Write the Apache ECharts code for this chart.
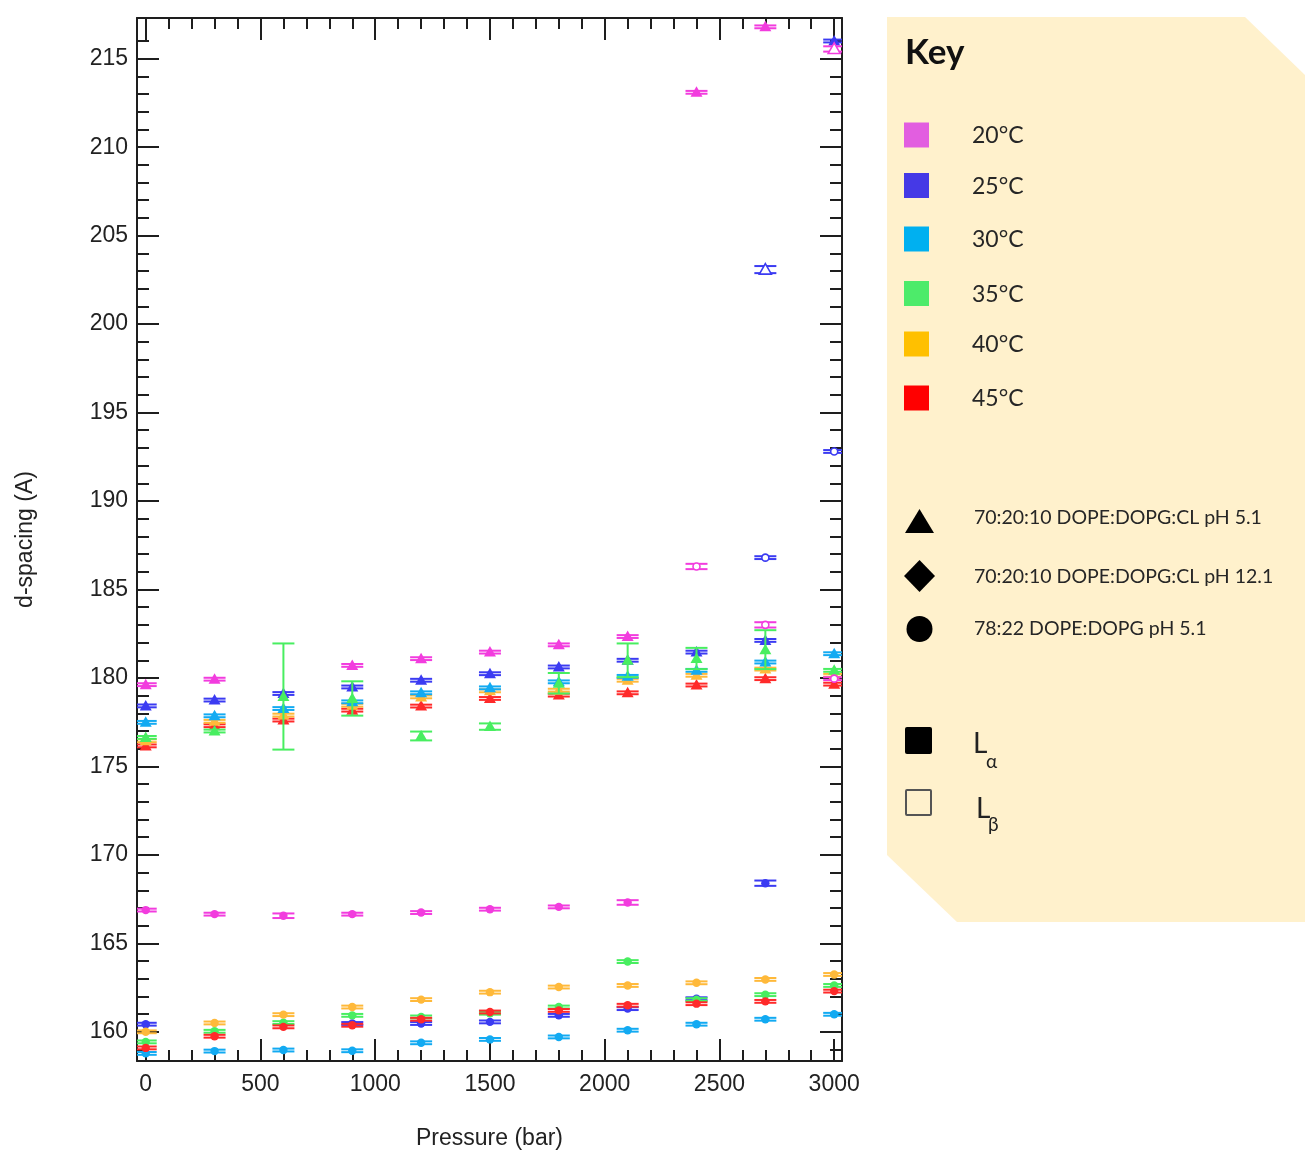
<!DOCTYPE html>
<html><head><meta charset="utf-8">
<script src="https://cdn.jsdelivr.net/npm/echarts@6/dist/echarts.min.js"></script>
<style>html,body{margin:0;padding:0;background:#fff}#c{width:1305px;height:1155px}</style>
</head><body><div id="c"></div>
<script>
// ---------- labels ----------
const temps = ['20°C', '25°C', '30°C', '35°C', '40°C', '45°C'];
const sampleLabels = ['70:20:10 DOPE:DOPG:CL pH 5.1', '70:20:10 DOPE:DOPG:CL pH 12.1', '78:22 DOPE:DOPG pH 5.1'];
const xName = 'Pressure (bar)';
const yName = 'd-spacing (A)';
const xMajor = [0, 500, 1000, 1500, 2000, 2500, 3000];
const xMinor = [100,200,300,400,600,700,800,900,1100,1200,1300,1400,1600,1700,1800,1900,2100,2200,2300,2400,2600,2700,2800,2900];
const yMajor = [160, 165, 170, 175, 180, 185, 190, 195, 200, 205, 210, 215];
const yMinor = [159,161,162,163,164,166,167,168,169,171,172,173,174,176,177,178,179,181,182,183,184,186,187,188,189,191,192,193,194,196,197,198,199,201,202,203,204,206,207,208,209,211,212,213,214,216];

// ---------- data: [pressure (bar), d-spacing (Å), error (optional)] ----------
// 70:20:10 DOPE:DOPG:CL pH 5.1 (triangles), L-alpha
const tri20 = [[0,179.62],[300,179.93],[900,180.71],[1200,181.09],[1500,181.46],[1800,181.87],[2100,182.34],[2400,213.1],[2700,216.8]];
const tri25 = [[0,178.42],[300,178.75],[600,179.12],[900,179.49],[1200,179.87],[1500,180.24],[1800,180.62],[2100,181.0],[2400,181.46],[2700,182.12],[3000,216.0]];
const tri30 = [[0,177.49],[300,177.86],[600,178.27],[900,178.65],[1200,179.16],[1500,179.44],[1800,179.78],[2100,180.09],[2400,180.43],[2700,180.9],[3000,181.37]];
const tri35 = [[0,176.64],[300,177.0],[600,178.95,3.0],[900,178.84,0.97],[1200,176.72,0.25],[1500,177.25,0.18],[1800,179.7,0.58],[2100,181.0,0.95],[2400,181.1,0.6],[2700,181.6,1.1],[3000,180.43]];
const tri40 = [[0,176.45],[300,177.55],[600,177.9],[900,178.46],[1200,178.93],[1500,179.27],[1800,179.31],[2100,179.87],[2400,180.15],[2700,180.5],[3000,180.15]];
const tri45 = [[0,176.16],[300,177.3],[600,177.62],[900,178.18],[1200,178.41],[1500,178.84],[1800,179.03],[2100,179.16],[2400,179.6],[2700,179.96],[3000,179.65]];
// 78:22 DOPE:DOPG pH 5.1 (circles), L-alpha
const circ20 = [[0,166.88],[300,166.65],[600,166.56,0.13],[900,166.65],[1200,166.74],[1500,166.93],[1800,167.06],[2100,167.31,0.13]];
const circ25 = [[0,160.43],[900,160.47],[1200,160.47],[1500,160.56],[1800,160.93],[2100,161.31],[2400,161.87],[2700,168.4,0.15]];
const circ30 = [[0,158.78],[300,158.91],[600,158.97],[900,158.93],[1200,159.38],[1500,159.57],[1800,159.71],[2100,160.09],[2400,160.43],[2700,160.71],[3000,160.99]];
const circ35 = [[0,159.43],[300,160.03],[600,160.52],[900,160.93],[1200,160.84],[1500,161.05],[1800,161.4],[2100,163.97],[2400,161.82],[2700,162.1],[3000,162.62]];
const circ40 = [[0,160.0],[300,160.5],[600,160.97],[900,161.4],[1200,161.82],[1500,162.24],[1800,162.53],[2100,162.62],[2400,162.77],[2700,162.96],[3000,163.24]];
const circ45 = [[0,159.09],[300,159.75],[600,160.28],[900,160.37],[1200,160.71],[1500,161.12],[1800,161.21],[2100,161.5],[2400,161.59],[2700,161.72],[3000,162.3]];
// L-beta (hollow markers)
const triB20 = [[3000,215.55,0.15]];
const circB20 = [[2400,186.3,0.15],[2700,183.0,0.15],[3000,179.96]];
const triB25 = [[2700,203.08,0.2]];
const circB25 = [[2700,186.8],[3000,192.8]];

// ---------- styling ----------
const dataColors = ['#F23CDE', '#3B3BF2', '#12AAF2', '#48EE60', '#FFB93A', '#FF2A2A'];
const keyColors = ['#E25EE0', '#4539E6', '#00B0F0', '#4DEB6A', '#FFC000', '#FF0000'];
const DEF_ERR = 0.08;
const AX = '#1e1e1e';
const FONT = '"Liberation Sans", Arial, sans-serif';
const KFONT = 'Lato, "Open Sans", sans-serif';

function makeRender(shape, hollow, color) {
  return function (params, api) {
    const p = api.value(0), d = api.value(1);
    let e = api.value(2);
    if (!(e > 0)) e = DEF_ERR;
    const c = api.coord([p, d]);
    const t = api.coord([p, d + e]);
    const b = api.coord([p, d - e]);
    const hw = 11;
    const ls = { stroke: color, lineWidth: 2 };
    const ch = [
      { type: 'line', shape: { x1: c[0], y1: t[1], x2: c[0], y2: b[1] }, style: ls },
      { type: 'line', shape: { x1: c[0] - hw, y1: t[1], x2: c[0] + hw, y2: t[1] }, style: ls },
      { type: 'line', shape: { x1: c[0] - hw, y1: b[1], x2: c[0] + hw, y2: b[1] }, style: ls }
    ];
    const st = hollow ? { fill: '#fff', stroke: color, lineWidth: 1.6 } : { fill: color };
    if (shape === 'tri') {
      ch.push({ type: 'polygon', shape: { points: [[c[0], c[1] - 6], [c[0] + 6, c[1] + 4.5], [c[0] - 6, c[1] + 4.5]] }, style: st });
    } else {
      ch.push({ type: 'circle', shape: { cx: c[0], cy: c[1], r: hollow ? 3.5 : 4.2 }, style: st });
    }
    return { type: 'group', children: ch };
  };
}

function mk(data, shape, hollow, ci) {
  return {
    type: 'custom', xAxisIndex: 0, yAxisIndex: 0, clip: true,
    dimensions: ['p', 'd', 'e'], encode: { x: 0, y: 1 },
    data: data, renderItem: makeRender(shape, hollow, dataColors[ci])
  };
}

const triSets = [tri20, tri25, tri30, tri35, tri40, tri45];
const circSets = [circ20, circ25, circ30, circ35, circ40, circ45];
const series = [];
circSets.forEach((d, i) => series.push(mk(d, 'circ', false, i)));
[5, 4, 2, 1, 0, 3].forEach(i => series.push(mk(triSets[i], 'tri', false, i)));
series.push(mk(circB20, 'circ', true, 0));
series.push(mk(circB25, 'circ', true, 1));
series.push(mk(triB20, 'tri', true, 0));
series.push(mk(triB25, 'tri', true, 1));

const XMIN = -38, XMAX = 3034, YMIN = 158.35, YMAX = 217.3;
function xAx(pos, vals, len, labels, line) {
  return {
    type: 'value', position: pos, min: XMIN, max: XMAX, gridIndex: 0,
    axisLine: { show: line, onZero: false, lineStyle: { color: AX, width: 2 } },
    axisTick: { show: true, inside: true, length: len, customValues: vals, lineStyle: { color: AX, width: 2 } },
    axisLabel: labels ? { show: true, customValues: vals, margin: 12, color: '#222', fontSize: 23, fontFamily: FONT, formatter: v => String(v) } : { show: false },
    splitLine: { show: false },
    name: labels ? xName : '', nameLocation: 'middle', nameGap: 66,
    nameTextStyle: { fontSize: 23, color: '#222', fontFamily: FONT }
  };
}
function yAx(pos, vals, len, labels, line) {
  return {
    type: 'value', position: pos, min: YMIN, max: YMAX, gridIndex: 0,
    axisLine: { show: line, onZero: false, lineStyle: { color: AX, width: 2 } },
    axisTick: { show: true, inside: true, length: len, customValues: vals, lineStyle: { color: AX, width: 2 } },
    axisLabel: labels ? { show: true, customValues: vals, margin: 9, color: '#222', fontSize: 23, fontFamily: FONT, formatter: v => String(v) } : { show: false },
    splitLine: { show: false },
    name: labels ? yName : '', nameLocation: 'middle', nameGap: 100, nameRotate: 90,
    nameTextStyle: { fontSize: 23, color: '#222', fontFamily: FONT }
  };
}

// ---------- key panel ----------
const graphic = [];
graphic.push({ type: 'polygon', shape: { points: [[887, 17], [1245, 17], [1305, 75], [1305, 922], [957, 922], [887, 855]] }, style: { fill: '#FFF1CC' }, z: -1 });
graphic.push({ type: 'text', x: 905, y: 53, style: { text: 'Key', fontSize: 35, fontWeight: 'bold', fontFamily: KFONT, fill: '#111', verticalAlign: 'middle' } });
const keyY = [135, 185.5, 239, 293.5, 344, 398];
temps.forEach((t, i) => {
  graphic.push({ type: 'rect', shape: { x: 904, y: keyY[i] - 12.5, width: 25, height: 25 }, style: { fill: keyColors[i] } });
  graphic.push({ type: 'text', x: 972, y: keyY[i] + 1, style: { text: t, fontSize: 23, fontFamily: KFONT, fill: '#262626', verticalAlign: 'middle' } });
});
graphic.push({ type: 'polygon', shape: { points: [[919.5, 509], [934, 533], [905, 533]] }, style: { fill: '#000' } });
graphic.push({ type: 'polygon', shape: { points: [[919.5, 560], [935, 576], [919.5, 592], [904, 576]] }, style: { fill: '#000' } });
graphic.push({ type: 'circle', shape: { cx: 919.5, cy: 629, r: 13 }, style: { fill: '#000' } });
[518, 577, 629].forEach((y, i) => {
  graphic.push({ type: 'text', x: 974, y: y, style: { text: sampleLabels[i], fontSize: 19.5, fontFamily: KFONT, fill: '#262626', verticalAlign: 'middle' } });
});
graphic.push({ type: 'rect', shape: { x: 905, y: 727, width: 27, height: 27, r: 2 }, style: { fill: '#000' } });
graphic.push({ type: 'rect', shape: { x: 906, y: 790, width: 25, height: 25, r: 1 }, style: { fill: 'none', stroke: '#555', lineWidth: 2 } });
graphic.push({ type: 'text', x: 973, y: 744, style: { text: 'L', fontSize: 28, fontFamily: KFONT, fill: '#222', verticalAlign: 'middle' } });
graphic.push({ type: 'text', x: 986, y: 762, style: { text: 'α', fontSize: 19, fontFamily: KFONT, fill: '#222', verticalAlign: 'middle' } });
graphic.push({ type: 'text', x: 976, y: 809, style: { text: 'L', fontSize: 28, fontFamily: KFONT, fill: '#222', verticalAlign: 'middle' } });
graphic.push({ type: 'text', x: 988, y: 825, style: { text: 'β', fontSize: 19, fontFamily: KFONT, fill: '#222', verticalAlign: 'middle' } });

const chart = echarts.init(document.getElementById('c'), null, { renderer: 'canvas' });
chart.setOption({
  backgroundColor: '#fff',
  animation: false,
  grid: { left: 137, top: 18, width: 705, height: 1048, containLabel: false },
  xAxis: [
    xAx('bottom', xMajor, 22, true, true),
    xAx('bottom', xMinor, 11, false, false),
    xAx('top', xMajor, 22, false, true),
    xAx('top', xMinor, 11, false, false)
  ],
  yAxis: [
    yAx('left', yMajor, 22, true, true),
    yAx('left', yMinor, 12, false, false),
    yAx('right', yMajor, 22, false, true),
    yAx('right', yMinor, 12, false, false)
  ],
  series: series,
  graphic: graphic
});
</script></body></html>
